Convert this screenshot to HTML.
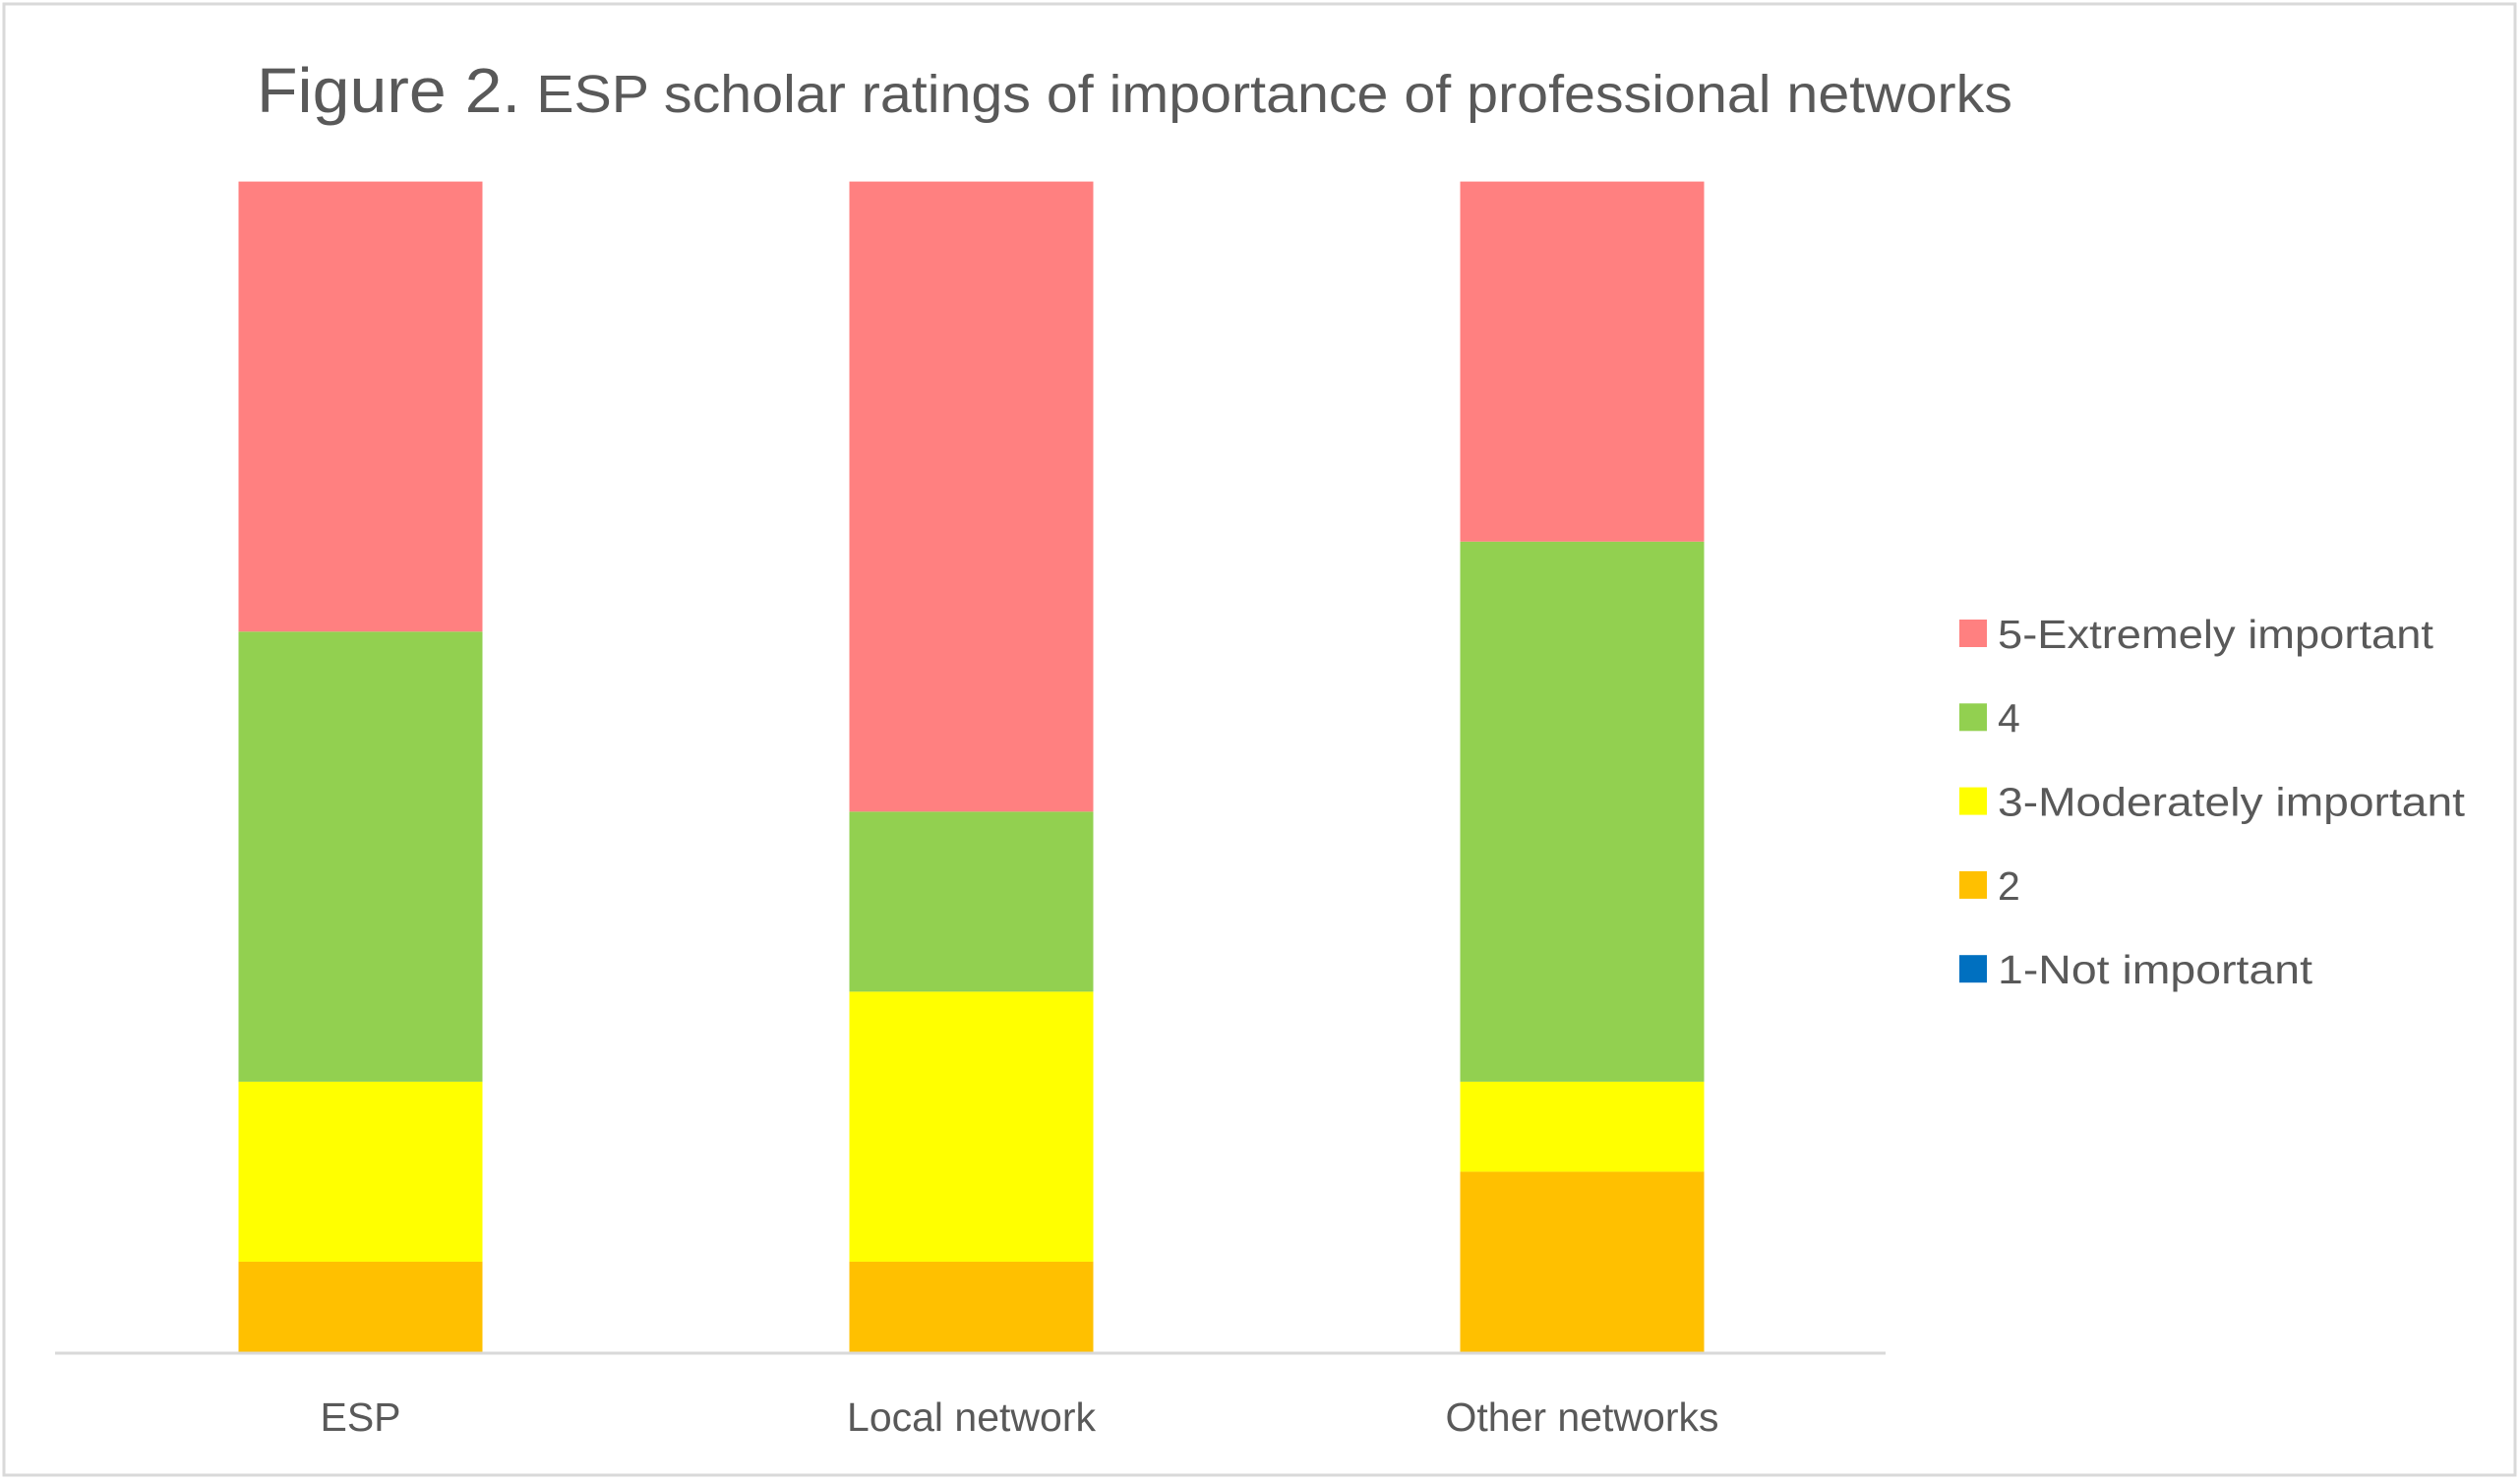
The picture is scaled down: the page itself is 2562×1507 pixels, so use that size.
<!DOCTYPE html>
<html><head><meta charset="utf-8"><style>
html,body{margin:0;padding:0;background:#fff;}
svg{display:block;font-family:"Liberation Sans",sans-serif;}
</style></head><body>
<svg id="chart" width="2562" height="1507" viewBox="0 0 2562 1507" xmlns="http://www.w3.org/2000/svg">
<rect x="4" y="4" width="2553" height="1496" fill="#fff" stroke="#d9d9d9" stroke-width="3"/>
<text x="261" y="114" fill="#595959" font-size="54" textLength="1785" lengthAdjust="spacingAndGlyphs"><tspan font-size="64">Figure 2.</tspan> ESP scholar ratings of importance of professional networks</text>
<g id="bars"></g>
<line x1="56" y1="1376" x2="1917" y2="1376" stroke="#d9d9d9" stroke-width="3"/>
<g id="xlabels"></g>
<g id="legend"></g>
</svg>
<script>
const categories = ["ESP", "Local network", "Other networks"];
const seriesNames = ["1-Not important", "2", "3-Moderately important", "4", "5-Extremely important"];
const seriesColors = ["#0070c0", "#ffc000", "#ffff00", "#92d050", "#ff8080"];
const s1 = [0, 0, 0];
const s2 = [1, 1, 2];
const s3 = [2, 3, 1];
const s4 = [5, 2, 6];
const s5 = [5, 7, 4];
const series = [s1, s2, s3, s4, s5];

const NS = "http://www.w3.org/2000/svg";
const plotLeft = 56, plotRight = 1919, plotTop = 184.6, plotBottom = 1374.5;
const band = (plotRight - plotLeft) / categories.length;
const barW = 248;
function xCenter(i){ return plotLeft + band * (i + 0.5); }
function yScale(frac){ return plotBottom - frac * (plotBottom - plotTop); }

const barsG = document.getElementById("bars");
categories.forEach((c, i) => {
  let total = 0;
  series.forEach(s => total += s[i]);
  let cum = 0;
  series.forEach((s, k) => {
    const v = s[i];
    if (v <= 0) return;
    const y0 = yScale(cum / total), y1 = yScale((cum + v) / total);
    cum += v;
    const r = document.createElementNS(NS, "rect");
    r.setAttribute("x", xCenter(i) - barW / 2);
    r.setAttribute("y", y1);
    r.setAttribute("width", barW);
    r.setAttribute("height", y0 - y1);
    r.setAttribute("fill", seriesColors[k]);
    
    
    barsG.appendChild(r);
  });
  const t = document.createElementNS(NS, "text");
  t.setAttribute("x", xCenter(i));
  t.setAttribute("y", 1455);
  t.setAttribute("text-anchor", "middle");
  t.setAttribute("font-size", "41");
  t.setAttribute("fill", "#595959");
  t.textContent = c;
  
  
  document.getElementById("xlabels").appendChild(t);
});

const legendG = document.getElementById("legend");
const legendOrder = [4, 3, 2, 1, 0];
const legendLens = [443, 0, 475, 0, 320];
legendOrder.forEach((k, j) => {
  const cy = 644 + j * 85.3;
  const sq = document.createElementNS(NS, "rect");
  sq.setAttribute("x", 1992);
  sq.setAttribute("y", cy - 14);
  sq.setAttribute("width", 28);
  sq.setAttribute("height", 28);
  sq.setAttribute("fill", seriesColors[k]);
  
  
  legendG.appendChild(sq);
  const t = document.createElementNS(NS, "text");
  t.setAttribute("x", 2031);
  t.setAttribute("y", cy + 15);
  t.setAttribute("font-size", "41");
  t.setAttribute("fill", "#595959");
  if (legendLens[j]) { t.setAttribute("textLength", legendLens[j]); t.setAttribute("lengthAdjust", "spacingAndGlyphs"); }
  t.textContent = seriesNames[k];
  
  
  legendG.appendChild(t);
});
</script>
</body></html>
